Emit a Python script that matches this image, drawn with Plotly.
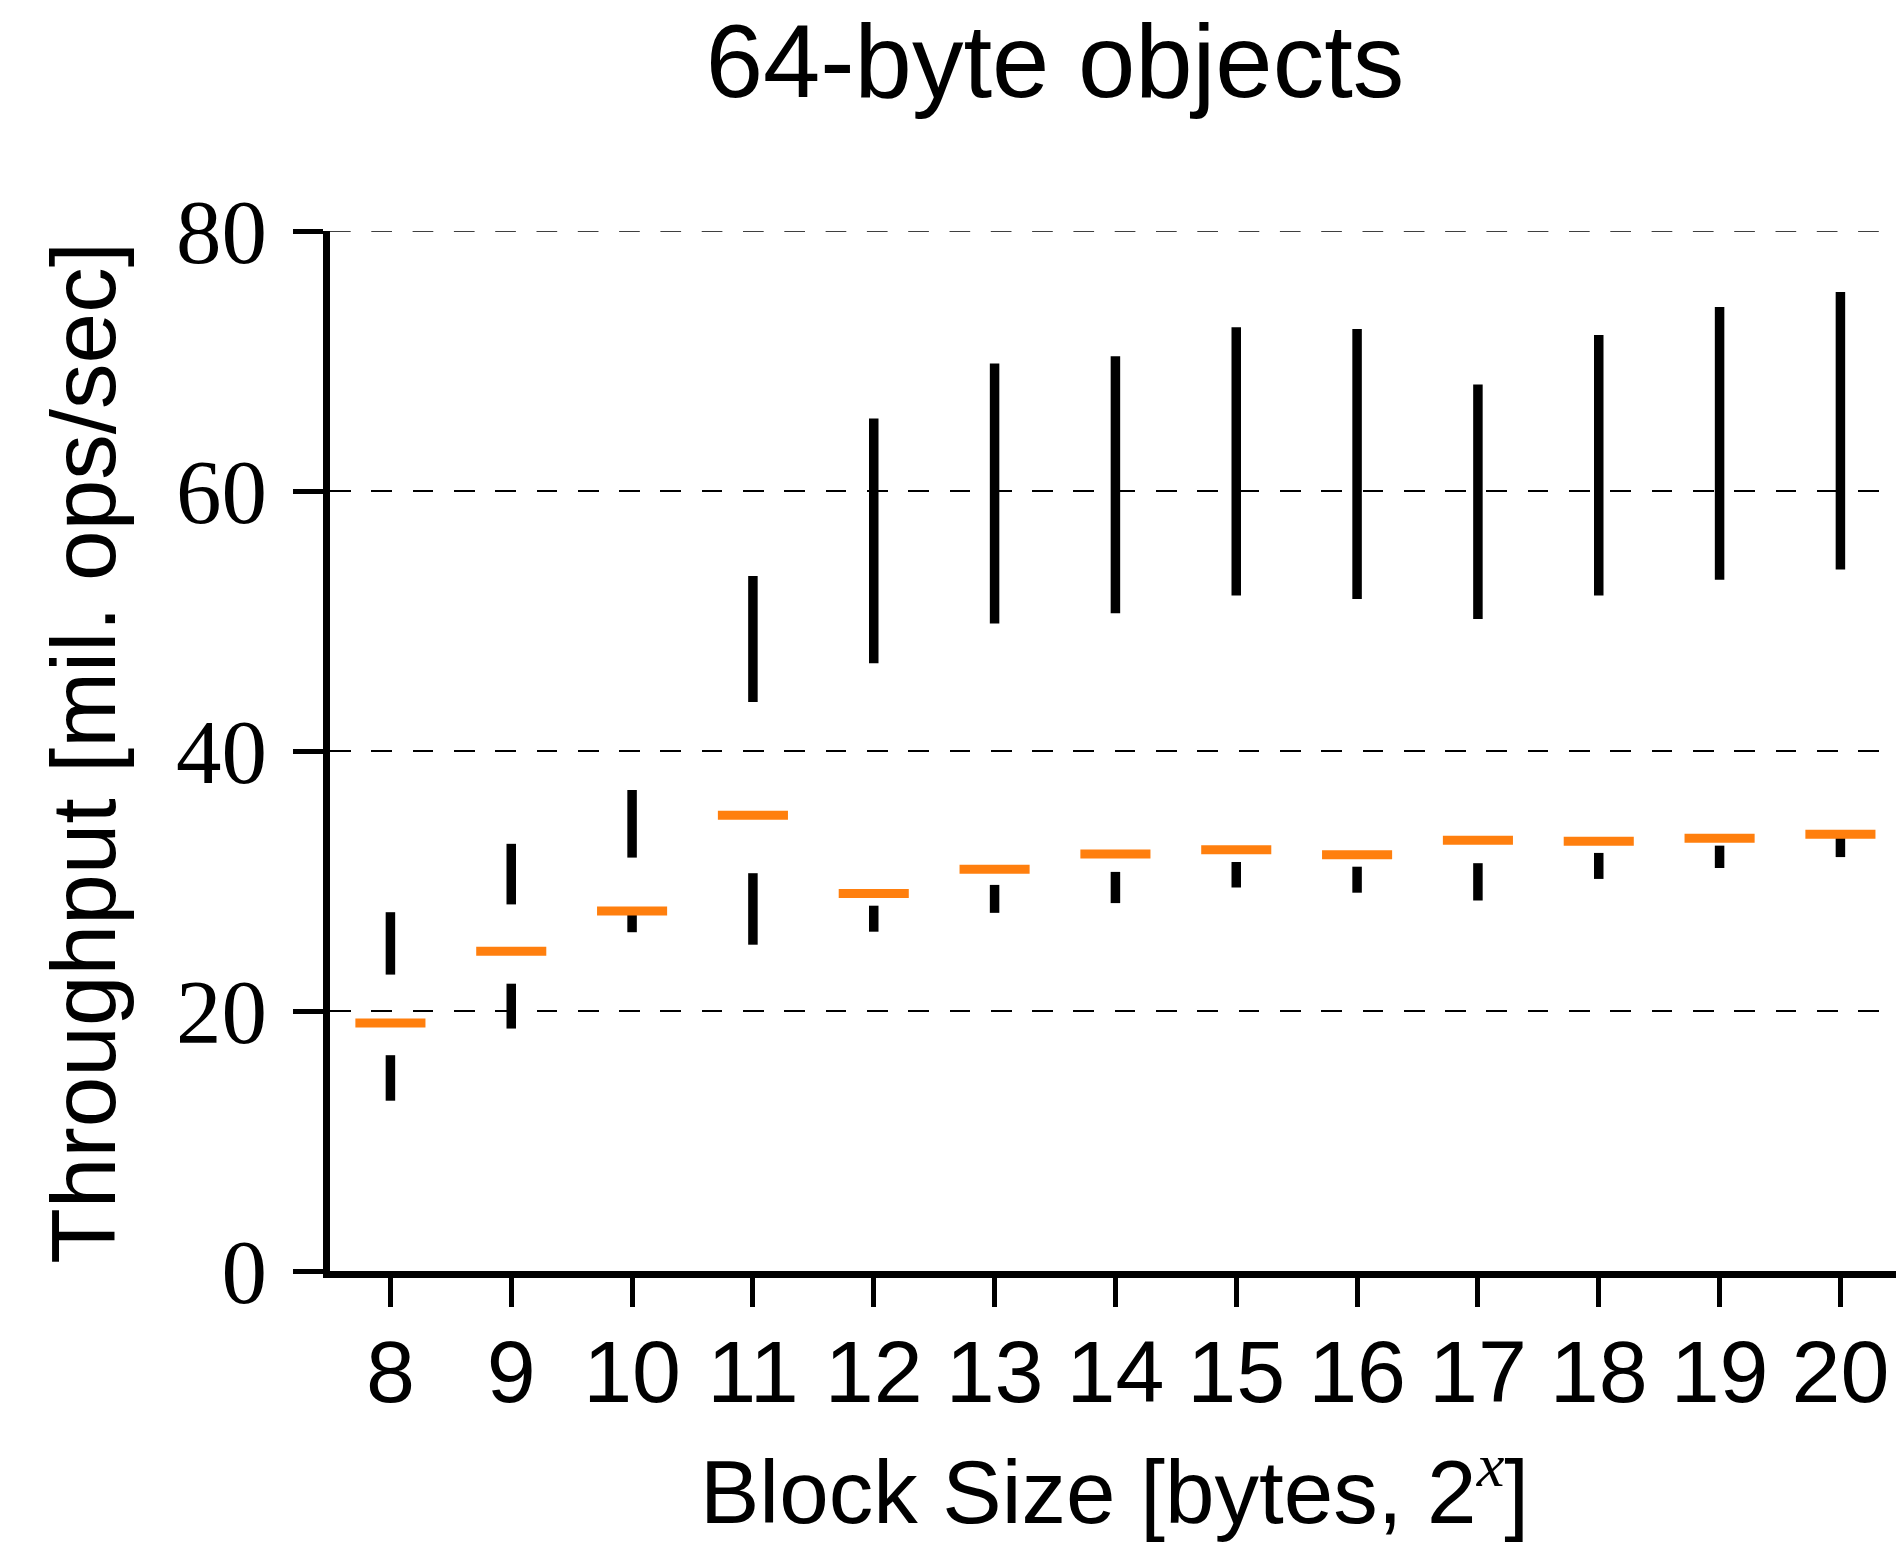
import plotly.graph_objects as go

# Block size exponent (bytes = 2^x)
block_exp = [8, 9, 10, 11, 12, 13, 14, 15, 16, 17, 18, 19, 20]

# Throughput statistics per block size [mil. ops/sec]
whisker_min = [13.1, 18.65, 26.06, 25.1, 26.1, 27.55, 28.3, 29.5, 29.1, 28.5, 30.16, 31.0, 31.84]
q1 = [16.6, 22.1, 27.5, 30.6, 28.1, 29.7, 30.7, 31.46, 31.1, 31.37, 32.16, 32.72, 33.4]
median = [19.07, 24.6, 27.7, 35.05, 29.04, 30.9, 32.07, 32.4, 32.02, 33.14, 33.05, 33.28, 33.6]
q3 = [22.8, 28.2, 31.8, 43.77, 46.75, 49.8, 50.6, 51.97, 51.7, 50.15, 51.97, 53.18, 53.97]
whisker_max = [27.6, 32.86, 37.0, 53.46, 65.57, 69.8, 70.37, 72.6, 72.47, 68.2, 72.0, 74.15, 75.3]

y_ticks = [0, 20, 40, 60, 80]

SANS = "Liberation Sans"
SERIF = "Liberation Serif"
MEDIAN_HALF_WIDTH = 0.29
GRID_DASH = "20.7px,20.6px"


def vertical_segments(xs, lo, hi):
    px, py = [], []
    for x, a, b in zip(xs, lo, hi):
        px += [x, x, None]
        py += [a, b, None]
    return px, py


def horizontal_segments(xs, ys, half):
    px, py = [], []
    for x, y in zip(xs, ys):
        px += [x - half, x + half, None]
        py += [y, y, None]
    return px, py


fig = go.Figure()

lx, ly = vertical_segments(block_exp, whisker_min, q1)
fig.add_trace(go.Scatter(x=lx, y=ly, mode="lines",
                         line=dict(color="black", width=9.5),
                         hoverinfo="skip"))

ux, uy = vertical_segments(block_exp, q3, whisker_max)
fig.add_trace(go.Scatter(x=ux, y=uy, mode="lines",
                         line=dict(color="black", width=9.5),
                         hoverinfo="skip"))

mx, my = horizontal_segments(block_exp, median, MEDIAN_HALF_WIDTH)
fig.add_trace(go.Scatter(x=mx, y=my, mode="lines",
                         line=dict(color="#ff7f0e", width=9),
                         hoverinfo="skip"))

# top gridline sits on the plot edge, draw it explicitly
fig.add_shape(type="line", xref="paper", yref="y",
              x0=0, x1=1, y0=y_ticks[-1], y1=y_ticks[-1],
              line=dict(color="black", width=1.6, dash=GRID_DASH),
              layer="below")

fig.update_layout(
    width=1896,
    height=1546,
    margin=dict(l=330, r=0, t=231, b=274.5),
    paper_bgcolor="white",
    plot_bgcolor="white",
    showlegend=False,
    title=dict(
        text="64-byte objects",
        font=dict(family=SANS, size=103, color="black"),
        xref="container", yref="container",
        x=1055 / 1896, y=1 - 61 / 1546,
        xanchor="center", yanchor="middle",
    ),
    xaxis=dict(
        range=[7.5, 20.46],
        tickvals=block_exp,
        ticktext=[str(v) for v in block_exp],
        ticks="outside", ticklen=29, tickwidth=5, tickcolor="black",
        showline=True, linewidth=6.5, linecolor="black",
        showgrid=False, zeroline=False,
        tickfont=dict(family=SANS, size=88, color="black"),
        ticklabelstandoff=-10,
    ),
    yaxis=dict(
        range=[0, 80],
        tickvals=y_ticks,
        ticktext=[str(v) for v in y_ticks],
        ticks="outside", ticklen=30, tickwidth=5, tickcolor="black",
        showline=True, linewidth=6.5, linecolor="black",
        showgrid=True, gridcolor="black", gridwidth=1.6,
        griddash=GRID_DASH,
        zeroline=False,
        tickfont=dict(family=SERIF, size=91, color="black"),
        ticklabelstandoff=8,
    ),
    annotations=[
        dict(
            text="Throughput [mil. ops/sec]",
            xref="paper", yref="paper",
            x=(84 - 330) / 1566, y=(1271.5 - 753) / 1040.5,
            xanchor="center", yanchor="middle",
            textangle=-90, showarrow=False,
            font=dict(family=SANS, size=91, color="black"),
        ),
        dict(
            text="Block Size [bytes, 2<sup><span style=\"font-family:'Liberation Serif';font-style:italic\">x</span></sup>]",
            xref="paper", yref="paper",
            x=(1114.5 - 330) / 1566, y=-(1487 - 1271.5) / 1040.5,
            xanchor="center", yanchor="middle",
            showarrow=False,
            font=dict(family=SANS, size=89, color="black"),
        ),
    ],
)

fig.write_html("out.html")
